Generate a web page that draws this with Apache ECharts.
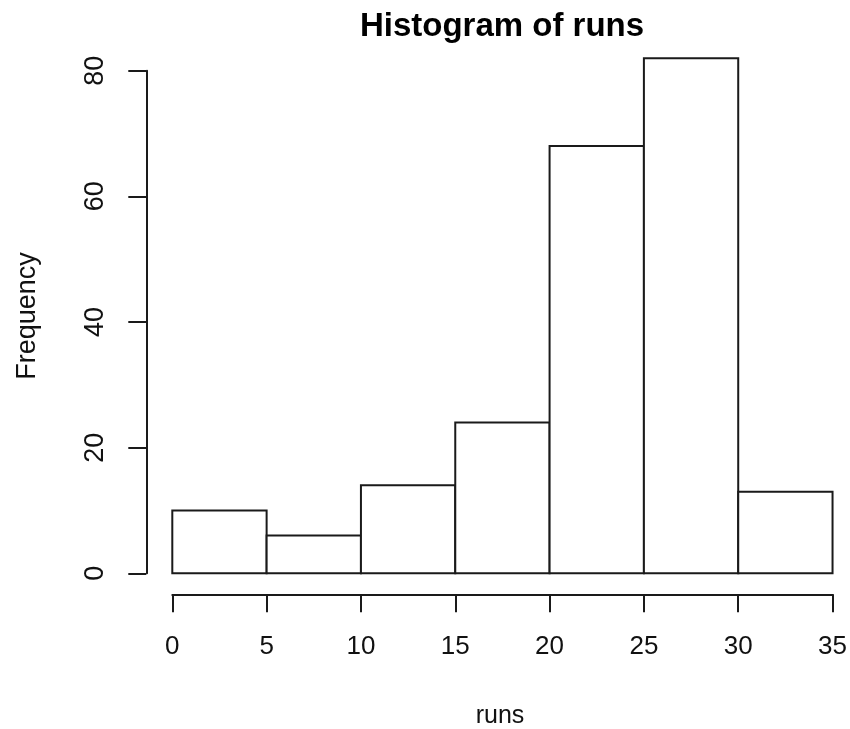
<!DOCTYPE html>
<html>
<head>
<meta charset="utf-8">
<script src="https://cdn.jsdelivr.net/npm/echarts@6/dist/echarts.min.js"></script>
<style>
html,body{margin:0;padding:0;background:#fff;}
#chart{width:850px;height:729px;}
</style>
</head>
<body>
<div id="chart"></div>
<script>
// Histogram data
var binStarts = [0, 5, 10, 15, 20, 25, 30];
var binWidth = 5;
var counts = [10, 6, 14, 24, 68, 82, 13];
var xTicks = [0, 5, 10, 15, 20, 25, 30, 35];
var yTicks = [0, 20, 40, 60, 80];
var titleText = 'Histogram of runs';
var xLabel = 'runs';
var yLabel = 'Frequency';

var FONT = 'Liberation Sans, Arial, sans-serif';
var LINE = '#1a1a1a';

var chart = echarts.init(document.getElementById('chart'), null, {renderer: 'canvas'});

var data = binStarts.map(function (s, i) { return [s, s + binWidth, counts[i]]; });

var option = {
  animation: false,
  backgroundColor: '#fff',
  grid: {left: 172.3, right: 16.6, top: 70.7, bottom: 155.7},
  xAxis: {
    type: 'value',
    min: xTicks[0], max: xTicks[xTicks.length - 1], interval: 5,
    offset: 21,
    splitLine: {show: false},
    axisLine: {show: true, onZero: false, lineStyle: {color: LINE, width: 2}},
    axisTick: {show: true, length: 18, lineStyle: {color: LINE, width: 2}},
    axisLabel: {color: '#111', fontSize: 26, fontFamily: FONT, margin: 40}
  },
  yAxis: {
    type: 'value',
    min: yTicks[0], max: yTicks[yTicks.length - 1], interval: 20,
    offset: 26,
    splitLine: {show: false},
    axisLine: {show: true, onZero: false, lineStyle: {color: LINE, width: 2}},
    axisTick: {show: true, length: 18, lineStyle: {color: LINE, width: 2}},
    axisLabel: {color: '#111', fontSize: 27, fontFamily: FONT, margin: 37, rotate: 90}
  },
  series: [{
    type: 'custom',
    clip: false,
    data: data,
    encode: {x: [0, 1], y: 2},
    renderItem: function (params, api) {
      var p0 = api.coord([api.value(0), 0]);
      var p1 = api.coord([api.value(1), api.value(2)]);
      return {
        type: 'rect',
        shape: {x: p0[0], y: p1[1], width: p1[0] - p0[0], height: p0[1] - p1[1]},
        style: {fill: '#fff', stroke: LINE, lineWidth: 2}
      };
    }
  }],
  graphic: [
    {type: 'text', x: 502, y: 27, style: {text: titleText, font: 'bold 33px ' + FONT, fill: '#000', textAlign: 'center', textVerticalAlign: 'middle'}},
    {type: 'text', x: 500, y: 716, style: {text: xLabel, font: '25px ' + FONT, fill: '#111', textAlign: 'center', textVerticalAlign: 'middle'}},
    {type: 'text', x: 28, y: 316, rotation: Math.PI / 2, style: {text: yLabel, font: '27px ' + FONT, fill: '#111', textAlign: 'center', textVerticalAlign: 'middle'}}
  ]
};
chart.setOption(option);
</script>
</body>
</html>
